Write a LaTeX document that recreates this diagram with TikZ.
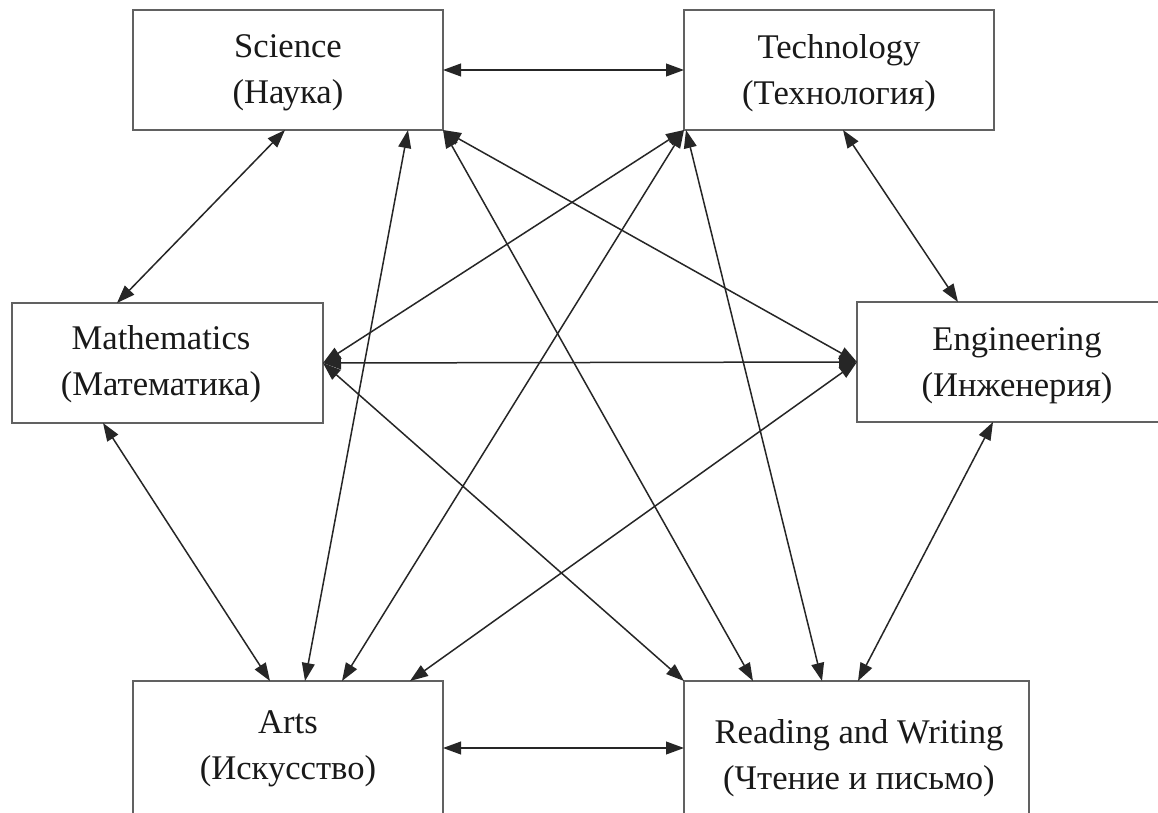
\documentclass[tikz,border=0pt]{standalone}
\usepackage{fontspec}
\setmainfont{Liberation Serif}
\usetikzlibrary{arrows.meta,calc}

\begin{document}
\begin{tikzpicture}[x=0.5pt,y=-0.5pt,
  box/.style={draw=black!62, line width=1pt, fill=white, inner sep=0pt, outer sep=0pt},
  lbl/.style={align=center, inner sep=0pt, text=black!90,
    font=\fontsize{17.3pt}{23pt}\selectfont},
  link/.style={draw=black!85, line width=0.75pt, >={Triangle[length=9pt,width=6.4pt]}, <->}]

\useasboundingbox (0,0) rectangle (1158,813);
\clip (0,0) rectangle (1158,813);
\fill[white] (0,0) rectangle (1158,813);

% the six boxes (the right and lower ones run past the edge)
\node[box, minimum width=155pt, minimum height=60pt] (sci)  at (288,70)   {};
\node[box, minimum width=155pt, minimum height=60pt] (tech) at (839,70)   {};
\node[box, minimum width=155.5pt, minimum height=60pt] (math) at (167.5,363) {};
\node[box, minimum width=160pt, minimum height=60pt] (eng)  at (1017,362) {};
\node[box, minimum width=155pt, minimum height=80pt] (arts) at (288,761)  {};
\node[box, minimum width=172.5pt, minimum height=80pt] (read) at (856.5,761) {};

% box captions
\node[lbl] (sci-l)  at (288,73)    {Science\\(Наука)};
\node[lbl] (tech-l) at (839,73)    {Technology\\(Технология)};
\node[lbl] (math-l) at (161,364)   {Mathematics\\(Математика)};
\node[lbl] (eng-l)  at (1017,366)  {Engineering\\(Инженерия)};
\node[lbl] (arts-l) at (288,749)   {Arts\\(Искусство)};
\node[lbl] (read-l) at (859,758)   {Reading and Writing\\(Чтение и письмо)};

% links between every pair of boxes
\draw[link] (sci.east) -- (tech.west);
\draw[link] ($(sci.south west)+(152,0)$) -- ($(math.north west)+(105,0)$);
\draw[link] ($(sci.south west)+(275,0)$) -- ($(arts.north west)+(172,0)$);
\draw[link] (sci.south east) -- ($(read.north west)+(69,0)$);
\draw[link] (sci.south east) -- (eng.west);

\draw[link] (tech.south west) -- (math.east);
\draw[link] (tech.south west) -- ($(arts.north west)+(209,0)$);
\draw[link] ($(tech.south west)+(2,0)$) -- ($(read.north west)+(138,0)$);
\draw[link] ($(tech.south west)+(159,0)$) -- ($(eng.north west)+(101,0)$);

\draw[link] (math.east) -- (eng.west);
\draw[link] ($(math.south west)+(91,0)$) -- ($(arts.north west)+(137,0)$);
\draw[link] (math.east) -- (read.north west);

\draw[link] (eng.west) -- ($(arts.north west)+(277,0)$);
\draw[link] ($(eng.south west)+(136,0)$) -- ($(read.north west)+(174,0)$);

\draw[link] ($(arts.north east)+(0,67)$) -- ($(read.north west)+(0,67)$);
\end{tikzpicture}
\end{document}
